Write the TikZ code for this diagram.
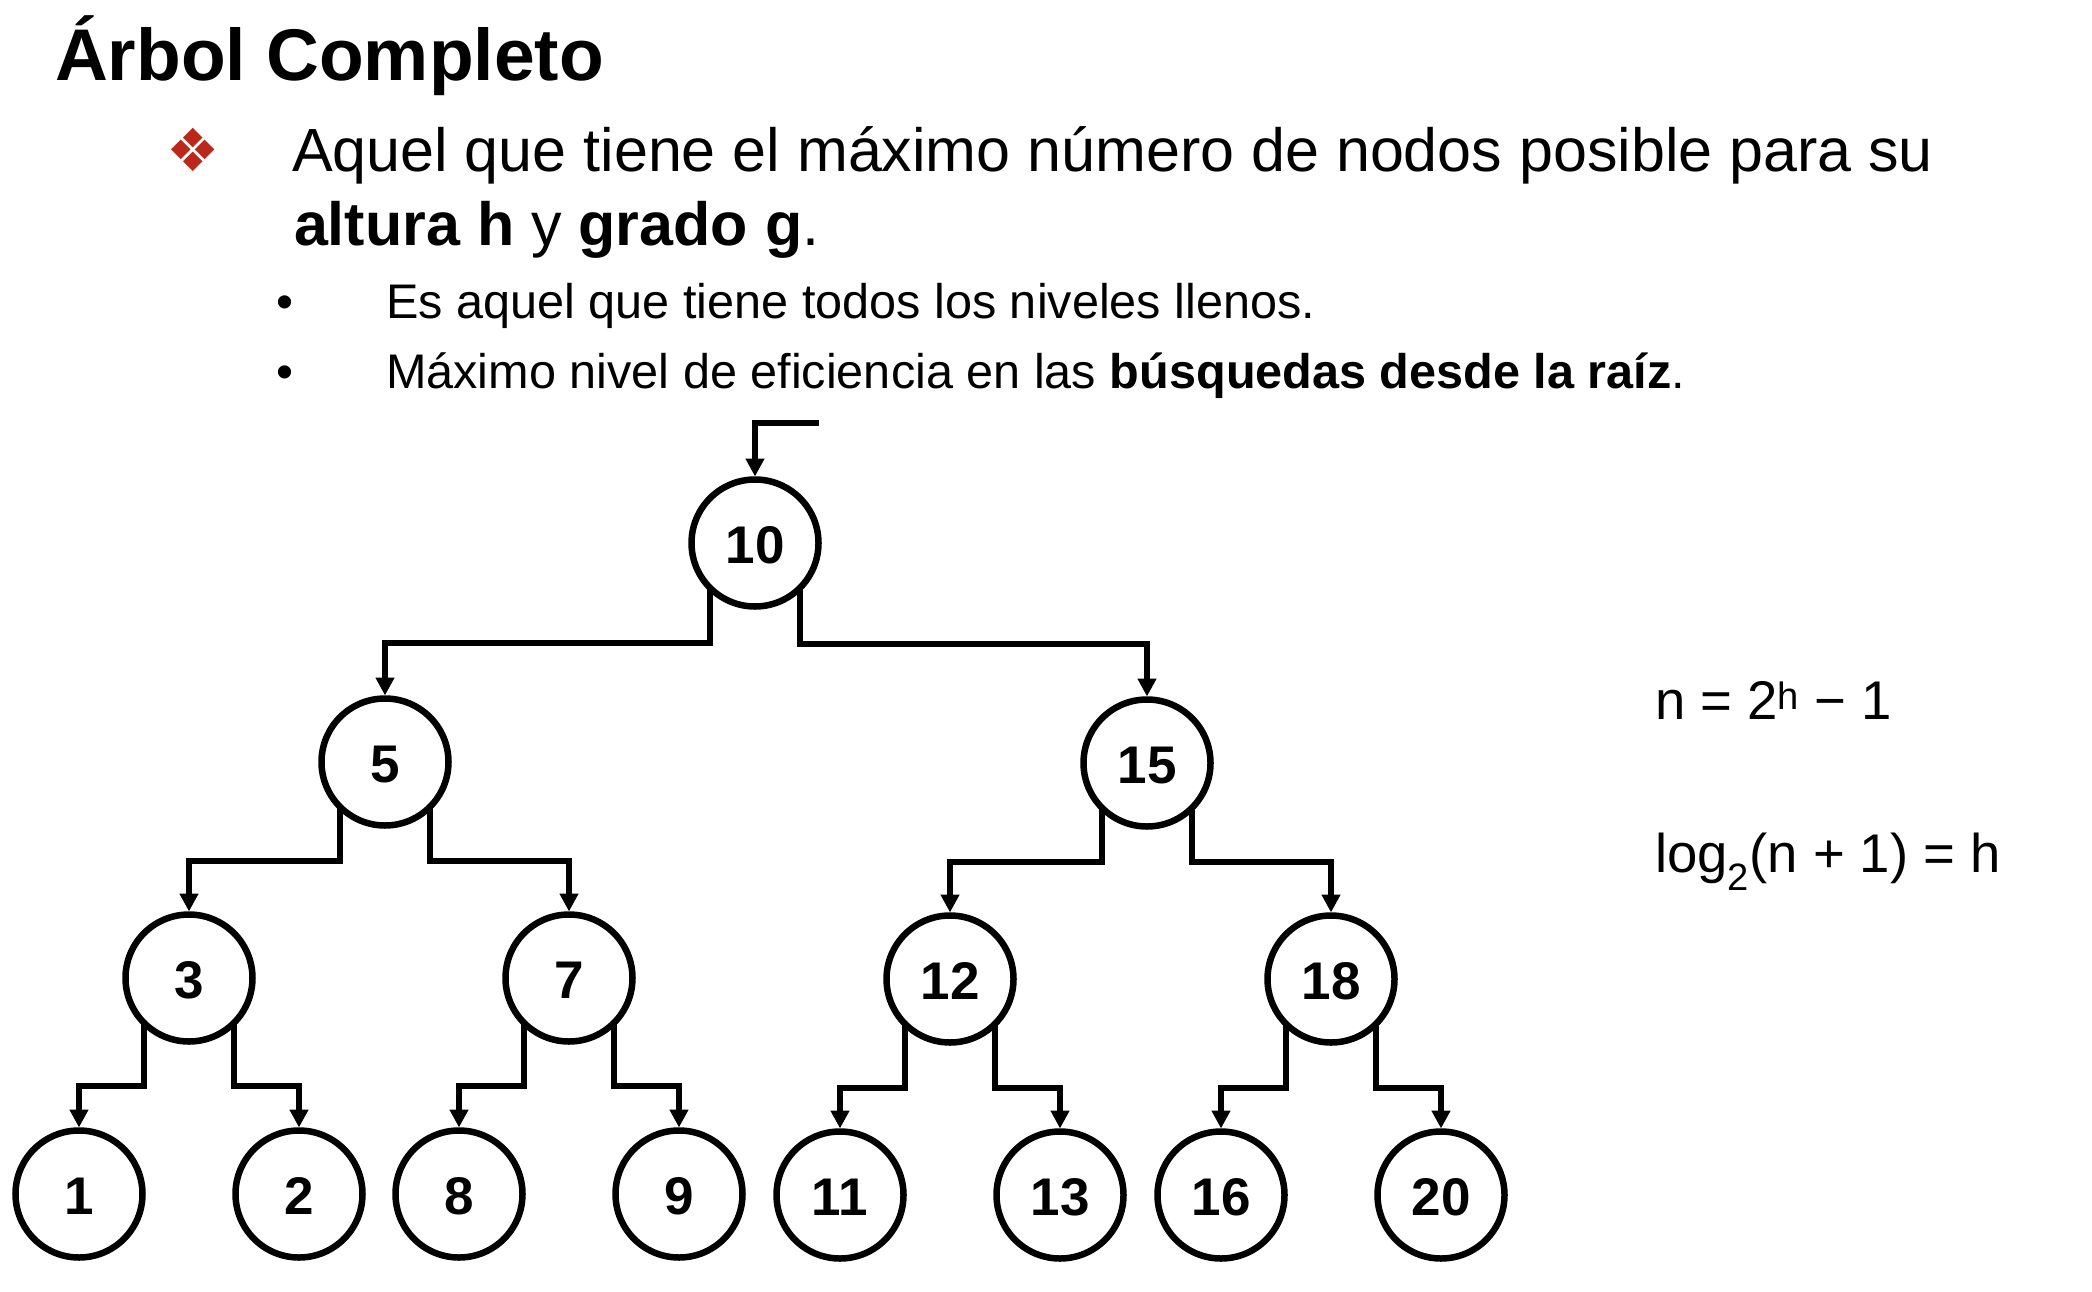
\documentclass[tikz,border=0pt]{standalone}
\usepackage{fontspec}
\setmainfont{Liberation Sans}
\newfontfamily\dingfont{DejaVu Sans}
\usetikzlibrary{arrows.meta,positioning}

\definecolor{markred}{HTML}{B9281B}
\newcommand{\titlesize}{\fontsize{73.2}{80}\selectfont}
\newcommand{\bodysize}{\fontsize{61}{68}\selectfont}
\newcommand{\subsize}{\fontsize{48.6}{54}\selectfont}
\newcommand{\formulasize}{\fontsize{54.5}{60}\selectfont}

\tikzset{
  treenode/.style={draw, circle, line width=6.5pt, minimum size=127pt, inner sep=0pt, outer sep=0pt, text height=41.5pt, text depth=0pt, font=\fontsize{53}{60}\selectfont\bfseries},
  link/.style={line width=6pt, -{Triangle[length=18pt,width=18pt]}, shorten >=3pt},
  textline/.style={anchor=base west, inner sep=0pt, outer sep=0pt}
}

\begin{document}
\begin{tikzpicture}[x=1pt, y=1pt, node distance=216pt and 110pt, on grid]
    \useasboundingbox (0,0) rectangle (2092,-1292);
    % Heading and bullets
    \node[textline, font=\titlesize\bfseries] (title) at (55,-81) {Árbol Completo};
    \node[textline, text=markred, font=\dingfont\fontsize{59.5}{60}\selectfont] (mark) at (166,-172) {❖};
    \node[textline, font=\bodysize] (lineA) at (292,-172) {Aquel que tiene el máximo número de nodos posible para su};
    \node[textline, font=\bodysize] (lineB) at (294,-245) {\textbf{altura h} y \textbf{grado g}.};
    \node[textline, font=\subsize] (dotA) at (276,-318) {•};
    \node[textline, font=\subsize] (subA) at (386,-318) {Es aquel que tiene todos los niveles llenos.};
    \node[textline, font=\subsize] (dotB) at (276,-388) {•};
    \node[textline, font=\subsize] (subB) at (386,-388) {Máximo nivel de eficiencia en las \textbf{búsquedas desde la raíz}.};
    % Formulas
    \node[textline, font=\formulasize] (formulaA) at (1655,-719) {n = 2\textsuperscript{h} − 1};
    \node[textline, font=\formulasize] (formulaB) at (1655,-872) {log\textsubscript{2}(n + 1) = h};
    % Tree
    \node[treenode] (n10) at (755,-543) {10};
    \coordinate (entry) at (819,-423);
    \node[treenode, below left=219pt and 370pt of n10] (n5) {5};
    \node[treenode, below right=220pt and 392pt of n10] (n15) {15};
    \node[treenode, below left=216pt and 196pt of n5] (n3) {3};
    \node[treenode, below right=216pt and 184pt of n5] (n7) {7};
    \node[treenode, below left=216pt and 197pt of n15] (n12) {12};
    \node[treenode, below right=216pt and 184pt of n15] (n18) {18};
    \node[treenode, below left=of n3] (n1) {1};
    \node[treenode, below right=of n3] (n2) {2};
    \node[treenode, below left=of n7] (n8) {8};
    \node[treenode, below right=of n7] (n9) {9};
    \node[treenode, below left=of n12] (n11) {11};
    \node[treenode, below right=of n12] (n13) {13};
    \node[treenode, below left=of n18] (n16) {16};
    \node[treenode, below right=of n18] (n20) {20};

    % Arrows
    \draw[link] (entry) -| (n10.north);
    \draw[link] (n10.south west) -- ++(0,-55.5) -| (n5.north);
    \draw[link] (n10.south east) -- ++(0,-56.5) -| (n15.north);
    \draw[link] (n5.south west) -- ++(0,-54) -| (n3.north);
    \draw[link] (n5.south east) -- ++(0,-54) -| (n7.north);
    \draw[link] (n15.south west) -- ++(0,-54) -| (n12.north);
    \draw[link] (n15.south east) -- ++(0,-54) -| (n18.north);
    \draw[link] (n3.south west) -- ++(0,-63) -| (n1.north);
    \draw[link] (n3.south east) -- ++(0,-63) -| (n2.north);
    \draw[link] (n7.south west) -- ++(0,-63) -| (n8.north);
    \draw[link] (n7.south east) -- ++(0,-63) -| (n9.north);
    \draw[link] (n12.south west) -- ++(0,-64) -| (n11.north);
    \draw[link] (n12.south east) -- ++(0,-64) -| (n13.north);
    \draw[link] (n18.south west) -- ++(0,-64) -| (n16.north);
    \draw[link] (n18.south east) -- ++(0,-64) -| (n20.north);
  \end{tikzpicture}
\end{document}
